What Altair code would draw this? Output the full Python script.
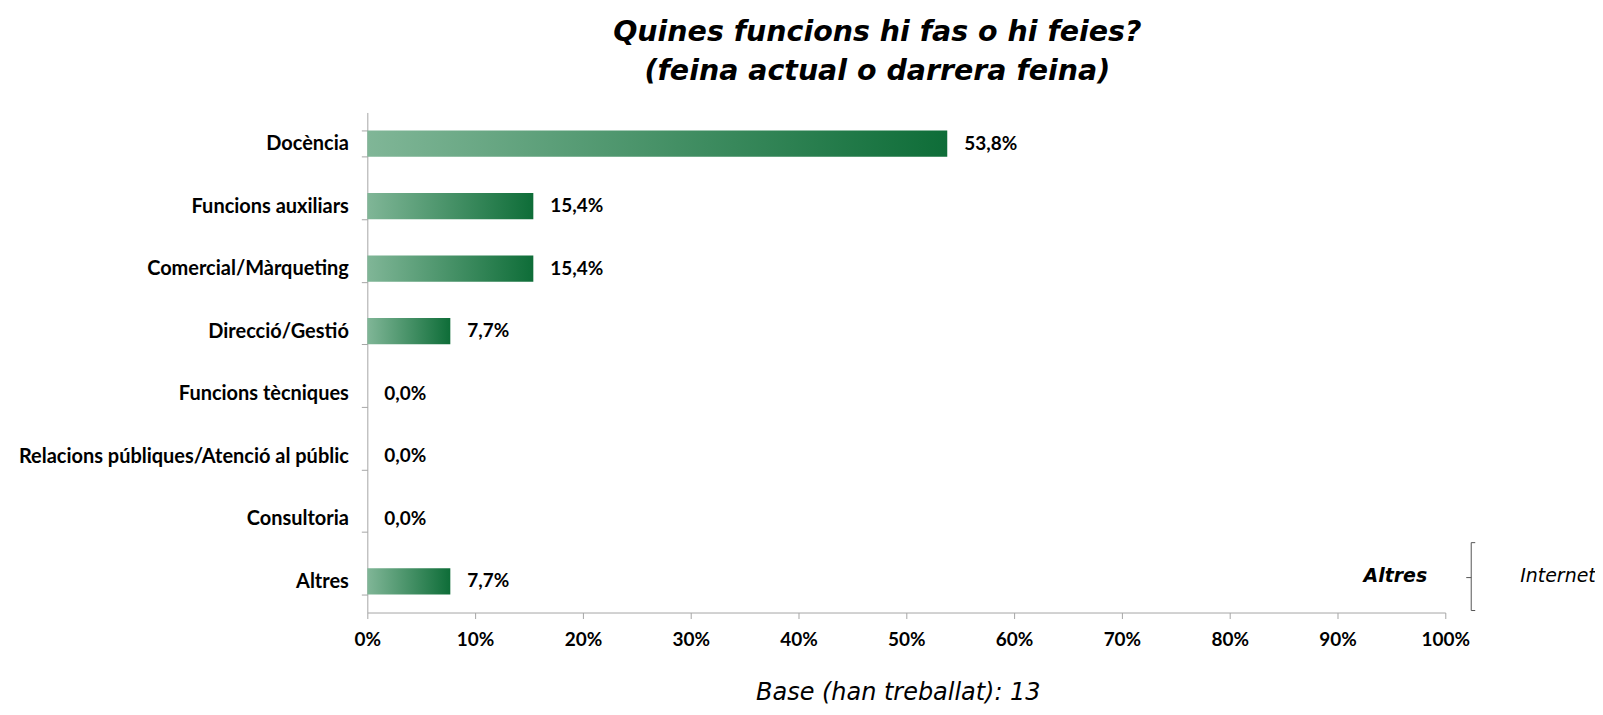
import altair as alt
import pandas as pd

categories = ["Docència", "Funcions auxiliars", "Comercial/Màrqueting", "Direcció/Gestió",
              "Funcions tècniques", "Relacions públiques/Atenció al públic", "Consultoria", "Altres"]
values = [53.8, 15.4, 15.4, 7.7, 0.0, 0.0, 0.0, 7.7]
x_ticks = [0, 10, 20, 30, 40, 50, 60, 70, 80, 90, 100]
title_lines = ["Quines funcions hi fas o hi feies?", "(feina actual o darrera feina)"]
footnote = "Base (han treballat): 13"
side_left = "Altres"
side_right = "Internet"

df = pd.DataFrame({"cat": categories, "value": values})

W, H = 1080, 501
AX = "#a6a6a6"
LBL_FONT = "Lato"
LBL_SIZE = 19

base = alt.Chart(df)

y_enc = alt.Y("cat:N", sort=categories,
              scale=alt.Scale(paddingInner=0.58, paddingOuter=0.29),
              axis=alt.Axis(title=None, tickBand="extent", tickSize=6, labelPadding=13,
                            domainColor=AX, tickColor=AX, labelFont=LBL_FONT,
                            labelFontWeight="bold", labelFontSize=20, labelColor="black",
                            labelLimit=500, grid=False))
x_enc = alt.X("value:Q", scale=alt.Scale(domain=[0, 100], nice=False),
              axis=alt.Axis(title=None, values=x_ticks, labelExpr="datum.value + '%'",
                            tickSize=6, labelPadding=12, domainColor=AX, tickColor=AX,
                            labelFont=LBL_FONT, labelFontWeight="bold", labelFontSize=LBL_SIZE,
                            labelColor="black", grid=False, labelFlush=False))

grad = alt.Gradient(gradient="linear",
                    stops=[alt.GradientStop(color="#80b697", offset=0),
                           alt.GradientStop(color="#0e6d38", offset=1)],
                    x1=0, x2=1, y1=0, y2=0)

bars = base.mark_bar(color=grad).encode(x=x_enc, y=y_enc)

labels = base.transform_calculate(
    label="replace(format(datum.value, '.1f'), '.', ',') + '%'"
).mark_text(align="left", baseline="middle", dx=17, font=LBL_FONT, fontWeight="bold",
            fontSize=LBL_SIZE, color="black").encode(
    x="value:Q", y=alt.Y("cat:N", sort=categories), text="label:N")

one = alt.Data(values=[{}])

def txt(text, x, y, size, weight="normal", style="italic", align="center"):
    return alt.Chart(one).mark_text(font="DejaVu Sans", fontSize=size, fontWeight=weight,
                                    fontStyle=style, align=align, baseline="alphabetic",
                                    color="black").encode(
        x=alt.value(x), y=alt.value(y), text=alt.value(text))

title1 = txt(title_lines[0], 511, -72, 28.5, "bold")
title2 = txt(title_lines[1], 511, -33, 28.5, "bold")
foot = txt(footnote, 532, 589, 24)
alt_txt = txt(side_left, 1030, 470, 19, "bold")
int_txt = txt(side_right, 1155, 470, 19, "normal", "italic", "left")

def rule(x, x2, y, y2):
    return alt.Chart(one).mark_rule(color="#555555", strokeWidth=1).encode(
        x=alt.value(x), x2=alt.value(x2), y=alt.value(y), y2=alt.value(y2))

brace = [rule(1106, 1106, 431, 499), rule(1106, 1110, 431, 431),
         rule(1106, 1110, 499, 499), rule(1101, 1106, 466, 466)]

chart = alt.layer(bars, labels, title1, title2, foot, alt_txt, int_txt, *brace).properties(
    width=W, height=H, autosize="none",
    padding={"left": 360, "top": 104, "right": 150, "bottom": 94}
).configure_view(stroke=None)

chart.save("out.html", embed_options={"renderer": "svg", "actions": False})
